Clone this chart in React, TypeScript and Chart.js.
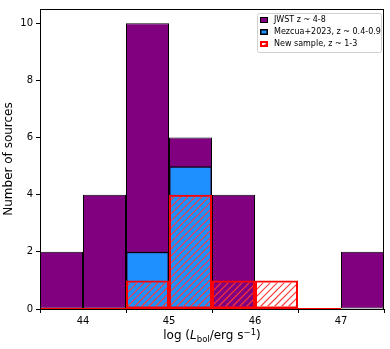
import React, { useEffect, useRef } from 'react';
import { Chart, registerables } from 'chart.js';
Chart.register(...registerables);

const binEdges = [43.5, 44, 44.5, 45, 45.5, 46, 46.5, 47, 47.5];
const jwstCounts = [2, 4, 10, 6, 4, 0, 0, 2];
const mezcuaCounts = [0, 0, 2, 5, 0, 0, 0, 0];
const newSampleCounts = [0, 0, 1, 4, 1, 1, 0, 0];
const newSampleBaseline = [43.5, 47];
const xTicks = [44, 45, 46, 47];
const yTicks = [0, 2, 4, 6, 8, 10];
const legendLabels = ['JWST z ~ 4-8', 'Mezcua+2023, z ~ 0.4-0.9', 'New sample, z ~ 1-3'];
const yTitle = 'Number of sources';

const FONT = '"DejaVu Sans", sans-serif';
const HATCH_COLOR = 'rgb(255,55,55)';
const HATCH_STEP = 7;

function drawHatch(ctx: CanvasRenderingContext2D, x: number, y: number, w: number, h: number, step = HATCH_STEP) {
  if (w <= 0 || h <= 0) return;
  ctx.save();
  ctx.globalAlpha = 1;
  ctx.globalCompositeOperation = 'source-over';
  ctx.beginPath();
  ctx.rect(x, y, w, h);
  ctx.clip();
  ctx.strokeStyle = HATCH_COLOR;
  ctx.lineWidth = 1.1;
  ctx.setLineDash([]);
  ctx.beginPath();
  const start = Math.floor((x + y) / step) * step;
  for (let c = start; c <= x + w + y + h + step; c += step) {
    ctx.moveTo(c - (y + h), y + h);
    ctx.lineTo(c - y, y);
  }
  ctx.stroke();
  ctx.restore();
}

export default function App() {
  const ref = useRef<HTMLCanvasElement>(null);
  useEffect(() => {
    document.body.style.margin = '0';
    const canvas = ref.current!;
    const ctx = canvas.getContext('2d')!;
    const centers = binEdges.slice(0, -1).map((e, i) => (e + binEdges[i + 1]) / 2);
    const toData = (arr: number[]) => centers.map((x, i) => ({ x, y: arr[i] > 0 ? arr[i] : null }));

    const hatchPlugin = {
      id: 'hatch',
      afterDatasetDraw(chart: any, args: any) {
        const ds = chart.data.datasets[args.index];
        if (!ds.hatch) return;
        const meta = args.meta;
        const bw = ds.borderWidth || 0;
        meta.data.forEach((el: any) => {
          if (el.skip || el.y == null || isNaN(el.y)) return;
          const left = el.x - el.width / 2;
          const top = Math.min(el.y, el.base);
          const h = Math.abs(el.base - el.y);
          drawHatch(chart.ctx, left + bw, top + bw, el.width - 2 * bw, h - 2 * bw);
        });
      },
    };

    const framePlugin = {
      id: 'frame',
      afterDatasetsDraw(chart: any) {
        const { ctx, chartArea: a } = chart;
        ctx.save();
        ctx.strokeStyle = '#000';
        ctx.lineWidth = 1;
        ctx.strokeRect(Math.round(a.left) + 0.5, Math.round(a.top) + 0.5, Math.round(a.right - a.left) - 1, Math.round(a.bottom - a.top));
        ctx.restore();
      },
    };

    const xTitlePlugin = {
      id: 'xTitle',
      afterDraw(chart: any) {
        const { ctx, chartArea: a } = chart;
        const size = 12;
        const small = 8.5;
        const parts: { t: string; f: string; dy: number }[] = [
          { t: 'log (', f: `${size}px ${FONT}`, dy: 0 },
          { t: 'L', f: `italic ${size}px ${FONT}`, dy: 0 },
          { t: 'bol', f: `${small}px ${FONT}`, dy: 2.5 },
          { t: '/erg s', f: `${size}px ${FONT}`, dy: 0 },
          { t: '\u22121', f: `${small}px ${FONT}`, dy: -4.5 },
          { t: ')', f: `${size}px ${FONT}`, dy: 0 },
        ];
        ctx.save();
        ctx.fillStyle = '#000';
        ctx.textBaseline = 'alphabetic';
        let total = 0;
        const widths = parts.map((p) => {
          ctx.font = p.f;
          const w = ctx.measureText(p.t).width;
          total += w;
          return w;
        });
        let x = (a.left + a.right) / 2 - total / 2;
        const base = 339;
        parts.forEach((p, i) => {
          ctx.font = p.f;
          ctx.fillText(p.t, x, base + p.dy);
          x += widths[i];
        });
        ctx.restore();
      },
    };

    const legendPlugin = {
      id: 'customLegend',
      afterDraw(chart: any) {
        const { ctx, chartArea: a } = chart;
        const x0 = a.right - 127;
        const y0 = a.top + 4;
        const w = 124;
        const h = 39;
        ctx.save();
        ctx.fillStyle = 'rgba(255,255,255,0.85)';
        ctx.strokeStyle = '#d0d0d0';
        ctx.lineWidth = 1;
        ctx.beginPath();
        (ctx as any).roundRect(x0 + 0.5, y0 + 0.5, w, h, 2);
        ctx.fill();
        ctx.stroke();
        const rows = [6.7, 18.7, 30.5];
        const px = x0 + 3;
        rows.forEach((ry, i) => {
          const cy = y0 + ry;
          const top = Math.round(cy - 3);
          if (i === 0) {
            ctx.fillStyle = '#800080';
            ctx.fillRect(px, top, 8, 6);
            ctx.strokeStyle = '#000';
            ctx.lineWidth = 1;
            ctx.strokeRect(px + 0.5, top + 0.5, 7, 5);
          } else if (i === 1) {
            ctx.fillStyle = '#1E90FF';
            ctx.fillRect(px, top, 8, 6);
            ctx.strokeStyle = '#000';
            ctx.lineWidth = 1.5;
            ctx.strokeRect(px + 0.75, top + 0.75, 6.5, 4.5);
          } else {
            ctx.fillStyle = '#fff';
            ctx.fillRect(px, top, 8, 6);
            drawHatch(ctx, px, top, 8, 6, 5);
            ctx.strokeStyle = 'red';
            ctx.lineWidth = 2;
            ctx.strokeRect(px + 1, top + 1, 6, 4);
          }
          ctx.fillStyle = '#000';
          ctx.font = `8px ${FONT}`;
          ctx.textBaseline = 'middle';
          ctx.fillText(legendLabels[i], x0 + 17, cy + 0.5);
        });
        ctx.restore();
      },
    };

    const barCommon = {
      grouped: false,
      barPercentage: 1,
      categoryPercentage: 1,
      borderSkipped: false,
      inflateAmount: 0,
    };

    const chart = new Chart(ctx, {
      type: 'bar',
      data: {
        datasets: [
          {
            type: 'line',
            label: 'baseline',
            data: newSampleBaseline.map((x) => ({ x, y: 0 })),
            borderColor: 'red',
            borderWidth: 2,
            pointRadius: 0,
            order: 0,
          } as any,
          {
            ...barCommon,
            label: legendLabels[2],
            data: toData(newSampleCounts),
            backgroundColor: 'rgba(0,0,0,0)',
            borderColor: 'red',
            borderWidth: 2,
            order: 1,
            hatch: true,
          } as any,
          {
            ...barCommon,
            label: legendLabels[1],
            data: toData(mezcuaCounts),
            backgroundColor: '#1E90FF',
            borderColor: '#000',
            borderWidth: 1.5,
            order: 2,
          } as any,
          {
            ...barCommon,
            label: legendLabels[0],
            data: toData(jwstCounts),
            backgroundColor: '#800080',
            borderColor: '#000',
            borderWidth: 1,
            order: 3,
          } as any,
        ],
      },
      options: {
        animation: false,
        responsive: false,
        maintainAspectRatio: false,
        layout: { padding: { left: 0, right: 6, top: 5, bottom: 0 } },
        plugins: { legend: { display: false }, tooltip: { enabled: false } },
        scales: {
          x: {
            type: 'linear',
            min: binEdges[0],
            max: binEdges[binEdges.length - 1],
            offset: false,
            afterBuildTicks: (s: any) => {
              s.ticks = xTicks.map((v) => ({ value: v }));
            },
            afterFit: (s: any) => {
              s.height = 40;
            },
            grid: { display: true, drawOnChartArea: false, drawTicks: true, tickLength: 4, color: '#000' },
            border: { display: false },
            ticks: { color: '#000', font: { family: FONT, size: 10 }, padding: 2, maxRotation: 0 },
          },
          y: {
            type: 'linear',
            min: 0,
            max: 10.5,
            afterBuildTicks: (s: any) => {
              s.ticks = yTicks.map((v) => ({ value: v }));
            },
            afterFit: (s: any) => {
              s.width = 40;
            },
            grid: { display: true, drawOnChartArea: false, drawTicks: true, tickLength: 4, color: '#000' },
            border: { display: false },
            ticks: { color: '#000', font: { family: FONT, size: 10 }, padding: 3 },
            title: { display: true, text: yTitle, color: '#000', font: { family: FONT, size: 12 }, padding: { top: 2, bottom: 2 } },
          },
        },
      },
      plugins: [hatchPlugin, framePlugin, xTitlePlugin, legendPlugin],
    } as any);
    return () => chart.destroy();
  }, []);
  return (
    <div style={{ width: 390, height: 349, background: '#fff' }}>
      <canvas ref={ref} width={390} height={349} style={{ display: 'block', width: 390, height: 349 }} />
    </div>
  );
}
